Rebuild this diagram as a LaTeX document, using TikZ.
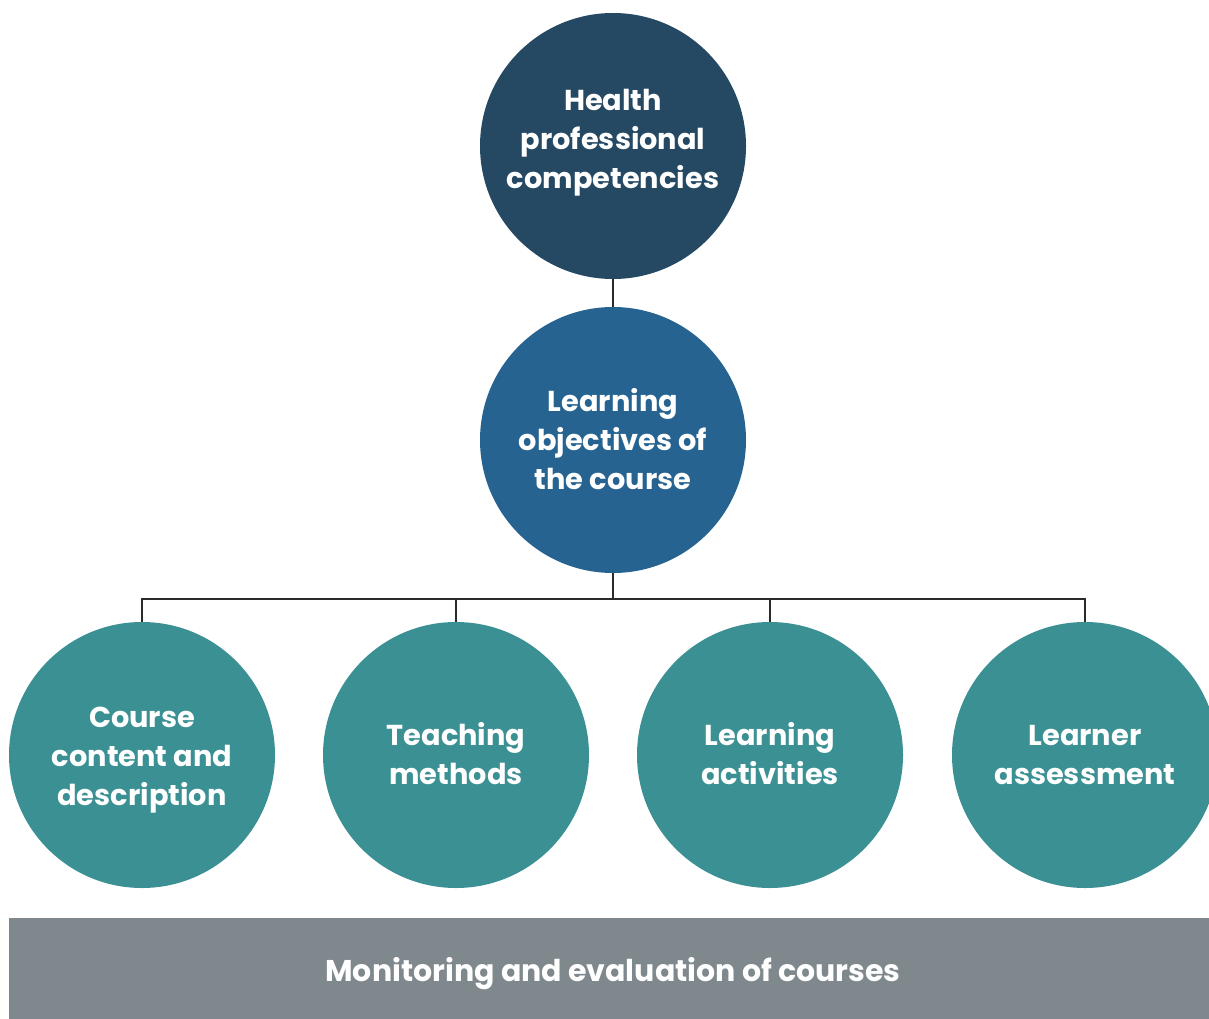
\documentclass[tikz,border=0pt]{standalone}
\usepackage{fontspec}
\setmainfont{Poppins}
\definecolor{navy}{HTML}{254863}
\definecolor{midblue}{HTML}{266390}
\definecolor{teal}{HTML}{3A9093}
\definecolor{bargray}{HTML}{7F888C}
\definecolor{linec}{HTML}{2A2A2A}
\begin{document}
\begin{tikzpicture}[x=1pt,y=-1pt,
  bubble/.style={circle,minimum size=266pt,inner sep=0pt},
  bubtext/.style={inner sep=0pt,align=center,text=white,
     font=\fontsize{28.8}{39}\selectfont\bfseries},
  conn/.style={draw=linec,line width=2.8pt}]
\useasboundingbox (0,0) rectangle (1209,1019);
\node[bubble,fill=navy] (hpc) at (613,146) {};
\node[bubtext] (hpct) at (613,143) {Health\\professional\\competencies};
\node[bubble,fill=midblue] (lo) at (613,440) {};
\node[bubtext] (lot) at (613,439) {Learning\\objectives of\\the course};
\node[bubble,fill=teal] (cc) at (142,755) {};
\node[bubtext] (cct) at (142,760) {Course\\content and\\description};
\node[bubble,fill=teal] (tm) at (456,755) {};
\node[bubtext] (tmt) at (456,754) {Teaching\\methods};
\node[bubble,fill=teal] (la) at (770,755) {};
\node[bubtext] (lat) at (770,754) {Learning\\activities};
\node[bubble,fill=teal] (ls) at (1085,755) {};
\node[bubtext] (lst) at (1085,755) {Learner\\assessment};
\node[fill=bargray,minimum width=1200pt,minimum height=101pt,inner sep=0pt,anchor=north west] (bar) at (9,918) {};
\node[text=white,inner sep=0pt,font=\fontsize{30}{30}\selectfont\bfseries] (bart) at (613,974) {Monitoring and evaluation of courses};
\coordinate (j) at (613,599);
\draw[conn] (hpc.south) -- (lo.north);
\draw[conn] (lo.south) -- (j);
\draw[conn] (cc.north) |- (j) -| (ls.north);
\draw[conn] (tm.north) -- (tm.north |- j);
\draw[conn] (la.north) -- (la.north |- j);
\end{tikzpicture}
\end{document}
